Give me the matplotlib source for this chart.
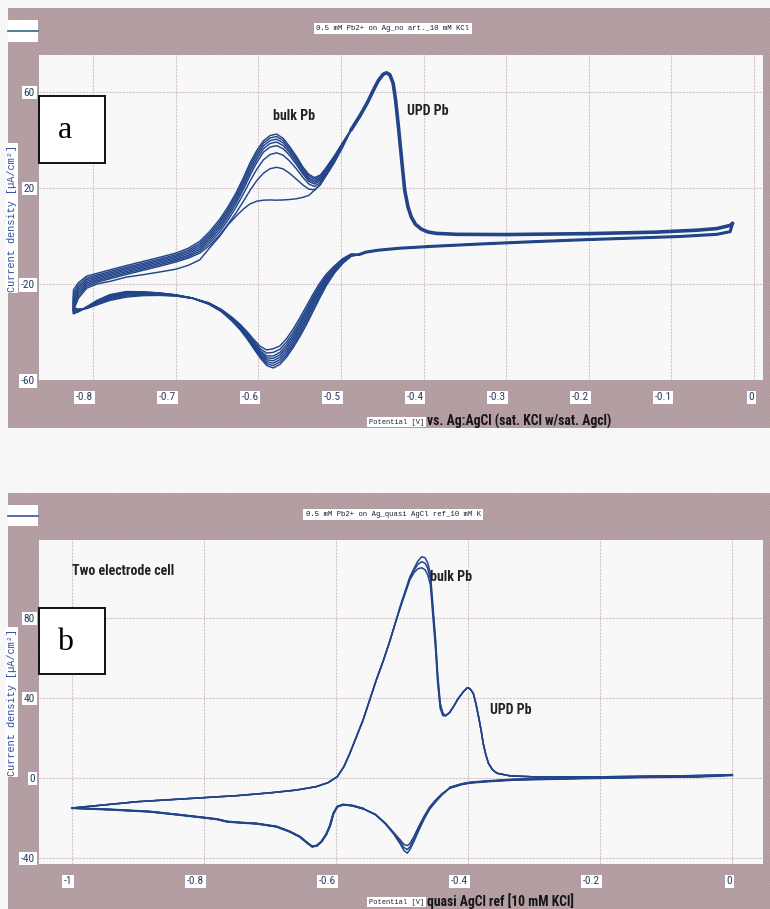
"""Cyclic voltammograms of Pb UPD / bulk deposition on Ag (two reference setups)"""

import matplotlib.pyplot as plt
from matplotlib.patches import Rectangle
import numpy as np

W, H = 770, 909

# ---------------- panel a : Ag:AgCl reference, 8 cycles ----------------
# lower (negative-going) sweep, common part from the positive limit
a_dn_tail_E = [-0.026, -0.029, -0.045, -0.09, -0.15, -0.21, -0.27, -0.33, -0.39, -0.43, -0.455, -0.470, -0.478]
a_dn_tail_I = [5.2, 1.7, 0.6, -0.3, -1.0, -1.7, -2.5, -3.4, -4.4, -5.2, -6.0, -6.8, -7.8]

# lower sweep through the bulk deposition peak, one row per cycle
a_dn_E = [-0.488, -0.498, -0.508, -0.518, -0.526, -0.534, -0.542, -0.550, -0.558, -0.566,
          -0.574, -0.582, -0.590, -0.598, -0.606, -0.614, -0.622, -0.632, -0.645, -0.660,
          -0.680, -0.700, -0.720, -0.740, -0.760, -0.780, -0.795, -0.808, -0.818, -0.824]
a_dn_I = [
    [-8.6, -11.5, -15.5, -20.8, -26.0, -31.5, -37.0, -42.0, -46.5, -50.5, -53.5, -55.0, -54.0, -50.8, -46.8,
     -42.8, -39.2, -35.5, -31.5, -28.5, -26.0, -24.6, -23.8, -23.3, -23.2, -24.5, -26.8, -29.5, -31.5, -32.5],
    [-8.4, -11.2, -15.0, -20.0, -25.0, -30.4, -35.9, -41.0, -45.6, -49.6, -52.5, -54.0, -53.2, -50.2, -46.3,
     -42.4, -38.9, -35.3, -31.4, -28.4, -25.9, -24.6, -23.8, -23.4, -23.4, -24.8, -27.0, -29.7, -31.6, -32.3],
    [-8.2, -10.9, -14.6, -19.3, -24.1, -29.3, -34.8, -39.9, -44.6, -48.6, -51.5, -53.0, -52.4, -49.6, -45.8,
     -42.0, -38.6, -35.1, -31.3, -28.3, -25.9, -24.6, -23.9, -23.6, -23.7, -25.1, -27.3, -29.8, -31.5, -32.0],
    [-8.0, -10.6, -14.2, -18.6, -23.2, -28.3, -33.7, -38.8, -43.6, -47.6, -50.5, -52.0, -51.6, -49.0, -45.3,
     -41.6, -38.3, -34.9, -31.2, -28.2, -25.9, -24.7, -24.0, -23.8, -24.0, -25.4, -27.5, -29.9, -31.4, -31.7],
    [-7.9, -10.3, -13.8, -18.0, -22.4, -27.3, -32.6, -37.7, -42.5, -46.5, -49.5, -51.0, -50.8, -48.4, -44.8,
     -41.2, -38.0, -34.7, -31.1, -28.2, -25.9, -24.8, -24.2, -24.0, -24.3, -25.7, -27.8, -30.0, -31.2, -31.3],
    [-7.8, -10.0, -13.4, -17.4, -21.6, -26.4, -31.6, -36.6, -41.4, -45.4, -48.5, -50.0, -50.0, -47.8, -44.3,
     -40.8, -37.7, -34.5, -31.0, -28.1, -26.0, -24.9, -24.4, -24.3, -24.7, -26.1, -28.1, -30.1, -31.0, -30.9],
    [-7.7, -9.8, -13.0, -16.8, -20.8, -25.5, -30.6, -35.5, -40.2, -44.2, -47.2, -48.5, -48.8, -47.0, -43.7,
     -40.3, -37.3, -34.2, -30.8, -28.0, -26.0, -25.0, -24.6, -24.6, -25.1, -26.5, -28.4, -30.2, -30.7, -30.4],
    [-7.6, -9.5, -12.5, -16.0, -19.8, -24.3, -29.3, -34.2, -38.8, -42.8, -45.8, -47.0, -47.5, -46.0, -43.0,
     -39.8, -36.9, -33.9, -30.6, -27.9, -26.0, -25.1, -24.8, -24.9, -25.5, -26.9, -28.7, -30.3, -30.5, -30.0],
]

# upper (positive-going) sweep through the bulk stripping peak, one row per cycle
a_up_E = [-0.824, -0.818, -0.808, -0.795, -0.780, -0.760, -0.740, -0.720, -0.700, -0.685, -0.671,
          -0.659, -0.647, -0.637, -0.627, -0.618, -0.610, -0.602, -0.594, -0.586, -0.578, -0.570,
          -0.562, -0.554, -0.546, -0.539, -0.532, -0.525, -0.518, -0.508, -0.498]
a_up_I = [
    [-22.5, -19.5, -16.8, -15.6, -14.2, -12.4, -10.7, -9.0, -7.2, -5.2, -2.3, 1.8, 6.8, 12.0, 17.9, 24.3,
     30.5, 35.5, 39.5, 41.7, 42.3, 40.5, 37.0, 33.0, 28.5, 25.5, 24.2, 25.3, 28.4, 33.3, 38.8],
    [-24.0, -20.5, -17.6, -16.3, -14.9, -13.1, -11.4, -9.7, -7.9, -6.0, -3.2, 0.8, 5.8, 11.0, 16.9, 23.2,
     29.3, 34.4, 38.5, 40.7, 41.3, 39.6, 36.2, 32.2, 27.8, 24.8, 23.6, 24.8, 28.0, 33.0, 38.6],
    [-25.2, -21.4, -18.3, -16.9, -15.5, -13.7, -12.0, -10.3, -8.5, -6.7, -4.0, -0.1, 4.8, 10.0, 15.8, 22.0,
     28.0, 33.2, 37.4, 39.6, 40.2, 38.6, 35.3, 31.4, 27.0, 24.0, 22.9, 24.2, 27.5, 32.6, 38.4],
    [-26.3, -22.3, -19.0, -17.5, -16.1, -14.3, -12.6, -10.9, -9.1, -7.4, -4.8, -1.0, 3.8, 8.9, 14.7, 20.8,
     26.7, 31.9, 36.2, 38.4, 39.0, 37.5, 34.4, 30.5, 26.3, 23.3, 22.2, 23.6, 27.0, 32.2, 38.2],
    [-27.5, -23.2, -19.7, -18.1, -16.7, -14.9, -13.2, -11.5, -9.7, -8.1, -5.6, -1.9, 2.8, 7.8, 13.5, 19.5,
     25.3, 30.5, 34.8, 36.9, 37.5, 36.2, 33.3, 29.6, 25.6, 22.6, 21.5, 23.0, 26.5, 31.8, 38.0],
    [-28.7, -24.1, -20.4, -18.7, -17.3, -15.5, -13.8, -12.1, -10.3, -8.7, -6.4, -2.9, 1.6, 6.5, 12.0, 17.6,
     22.9, 27.7, 31.6, 33.8, 34.5, 33.5, 31.0, 27.8, 24.2, 21.5, 20.5, 22.2, 25.9, 31.4, 37.8],
    [-29.9, -25.0, -21.1, -19.3, -17.9, -16.1, -14.4, -12.7, -10.9, -9.3, -7.2, -4.0, 0.3, 4.8, 9.6, 14.5,
     19.0, 23.0, 26.0, 27.9, 28.5, 27.8, 25.9, 23.5, 21.1, 19.4, 19.1, 21.2, 25.3, 31.0, 37.5],
    [-31.0, -26.0, -21.8, -20.0, -19.0, -17.2, -16.2, -15.1, -13.9, -12.3, -10.0, -5.0, -0.2, 4.5, 8.2, 11.2,
     13.3, 14.4, 14.8, 14.9, 14.8, 14.9, 15.1, 15.4, 16.0, 16.8, 19.0, 21.5, 25.0, 30.5, 36.8],
]

# upper sweep, common part: UPD stripping peak and double-layer region
a_up_tail_E = [-0.488, -0.477, -0.468, -0.461, -0.455, -0.449, -0.445, -0.441, -0.437, -0.434, -0.431,
               -0.427, -0.423, -0.419, -0.415, -0.410, -0.403, -0.395, -0.385, -0.36, -0.30, -0.20,
               -0.12, -0.07, -0.045, -0.029, -0.026]
a_up_tail_I = [44.0, 50.0, 55.5, 60.5, 64.5, 67.2, 67.8, 67.0, 63.5, 56.5, 46.8, 32.9, 19.0, 12.0, 7.8,
               4.8, 2.8, 1.6, 1.0, 0.6, 0.5, 0.9, 1.5, 2.3, 3.0, 4.3, 5.2]

# ---------------- panel b : quasi AgCl reference, two electrode cell ----------------
b_dn_tail_E = [0.0, -0.05, -0.13, -0.23, -0.33, -0.37, -0.397, -0.41]
b_dn_tail_I = [1.3, 0.6, 0.3, -0.3, -1.0, -1.8, -2.5, -3.3]

b_cp_E = [-0.427, -0.440, -0.450, -0.458, -0.466, -0.474, -0.482, -0.488, -0.492, -0.497, -0.503,
          -0.513, -0.525, -0.540]
b_cp_I = [
    [-5.0, -8.8, -12.5, -15.8, -20.5, -26.0, -32.0, -36.0, -37.8, -36.5, -33.0, -28.0, -23.2, -18.6],
    [-5.0, -8.5, -12.0, -15.2, -19.8, -25.0, -30.8, -34.6, -36.0, -35.0, -32.0, -27.7, -23.0, -18.5],
    [-5.0, -8.2, -11.5, -14.6, -19.0, -24.0, -29.5, -33.0, -34.0, -33.4, -31.0, -27.3, -22.8, -18.4],
]

b_dn_left_E = [-0.559, -0.575, -0.589, -0.598, -0.604, -0.609, -0.615, -0.622, -0.629, -0.636, -0.644,
               -0.655, -0.670, -0.690, -0.72, -0.745, -0.765, -0.78, -0.80, -0.84, -0.882, -0.94, -1.0]
b_dn_left_I = [-15.5, -14.0, -13.5, -14.5, -18.0, -24.0, -28.5, -32.0, -34.0, -34.5, -32.5, -29.5, -27.0,
               -24.5, -23.0, -22.5, -22.0, -20.8, -20.0, -18.5, -17.0, -16.0, -15.2]

b_up_left_E = [-1.0, -0.95, -0.90, -0.85, -0.80, -0.75, -0.70, -0.66, -0.63, -0.612, -0.598, -0.588,
               -0.579, -0.569, -0.559, -0.549, -0.539, -0.528, -0.518, -0.510]
b_up_left_I = [-15.2, -13.6, -12.0, -11.0, -10.0, -9.0, -7.6, -6.2, -4.5, -2.5, 0.5, 5.5, 12.2, 20.5,
               28.8, 38.8, 48.8, 58.8, 68.8, 77.5]

b_pk_E = [-0.503, -0.495, -0.488, -0.482, -0.476, -0.470, -0.465, -0.461, -0.457, -0.455, -0.453,
          -0.449, -0.446, -0.442, -0.438]
b_pk_I = [
    [85.5, 93.5, 100.5, 104.5, 108.3, 110.5, 110.0, 107.5, 102.2, 94.0, 85.5, 68.8, 52.2, 37.2, 32.2],
    [85.0, 93.0, 99.8, 103.6, 106.8, 108.0, 107.3, 104.8, 99.5, 91.5, 83.0, 66.5, 50.0, 35.8, 31.6],
    [84.5, 92.3, 99.0, 102.5, 104.5, 105.0, 104.0, 101.5, 96.5, 88.5, 80.0, 63.5, 47.5, 34.5, 31.0],
]

b_up_tail_E = [-0.434, -0.428, -0.422, -0.415, -0.407, -0.401, -0.397, -0.392, -0.388, -0.384, -0.380,
               -0.377, -0.373, -0.369, -0.363, -0.356, -0.336, -0.30, -0.23, -0.15, -0.08, 0.0]
b_up_tail_I = [31.0, 32.5, 35.5, 39.5, 43.0, 45.0, 44.5, 42.2, 37.0, 30.5, 23.5, 17.2, 11.5, 7.2, 4.0,
               2.2, 0.9, 0.4, 0.3, 0.6, 0.9, 1.3]

a_xticks = [-0.8, -0.7, -0.6, -0.5, -0.4, -0.3, -0.2, -0.1, 0.0]
a_xlabels = ['-0.8', '-0.7', '-0.6', '-0.5', '-0.4', '-0.3', '-0.2', '-0.1', '0']
a_yticks = [-60, -20, 20, 60]
b_xticks = [-1.0, -0.8, -0.6, -0.4, -0.2, 0.0]
b_xlabels = ['-1', '-0.8', '-0.6', '-0.4', '-0.2', '0']
b_yticks = [-40, 0, 40, 80]

CV_COLOR = '#22458a'
FRAME = '#bba7ab'
NARROW = ['Roboto Condensed', 'Liberation Sans Narrow', 'Roboto']
MONO = ['Liberation Mono', 'DejaVu Sans Mono']

plt.rcParams['hatch.linewidth'] = 0.5


def fbox(x0, y0, x1, y1):
    """pixel box (origin top-left) -> figure fraction rect"""
    return [x0 / W, 1 - y1 / H, (x1 - x0) / W, (y1 - y0) / H]


def fx(x):
    return x / W


def fy(y):
    return 1 - y / H


def frame(fig, x0, y0, x1, y1):
    l, b, w, h = fbox(x0, y0, x1, y1)
    fig.add_artist(Rectangle((l, b), w, h, transform=fig.transFigure, facecolor=FRAME,
                             edgecolor='#a99297', hatch='/' * 14, lw=0, zorder=-2))


def white_box(fig, x0, y0, x1, y1, edge='none', lw=0):
    l, b, w, h = fbox(x0, y0, x1, y1)
    fig.add_artist(Rectangle((l, b), w, h, transform=fig.transFigure, facecolor='white',
                             edgecolor=edge, lw=lw, zorder=3))


def style_axes(ax, xlim, ylim, xticks, xlabels, yticks):
    ax.set_facecolor('#f8f8f8')
    ax.set_xlim(*xlim)
    ax.set_ylim(*ylim)
    ax.set_xticks(xticks)
    ax.set_xticklabels(xlabels)
    ax.set_yticks(yticks)
    ax.set_yticklabels([str(v) for v in yticks])
    ax.grid(True, color='#d3c2ca', lw=0.8, ls=(0, (2, 1)))
    ax.set_axisbelow(True)
    for s in ax.spines.values():
        s.set_visible(False)
    ax.tick_params(length=0, labelsize=8.2, labelcolor='#2c3c66')
    ax.tick_params(axis='x', pad=9)
    ax.tick_params(axis='y', pad=3)
    for lbl in ax.get_xticklabels():
        lbl.set_ha('right')
    for lbl in ax.get_xticklabels() + ax.get_yticklabels():
        lbl.set_fontfamily(NARROW)
        lbl.set_bbox(dict(facecolor='white', edgecolor='none', pad=1.2))


fig = plt.figure(figsize=(W / 100, H / 100), dpi=100, facecolor='#f7f7f7')

frame(fig, 8, 8, W, 428)
frame(fig, 8, 493, W, H)

# ---- panel a ----
ax1 = fig.add_axes(fbox(39, 55, 763, 380))
style_axes(ax1, (-0.8657, 0.0108), (-59.9, 75.2), a_xticks, a_xlabels, a_yticks)
for up_I, dn_I in zip(a_up_I, a_dn_I):
    E = a_dn_tail_E + a_dn_E + a_up_E + a_up_tail_E
    I = a_dn_tail_I + dn_I + up_I + a_up_tail_I
    ax1.plot(E, I, color=CV_COLOR, lw=1.05)
ax1.plot(a_up_tail_E, a_up_tail_I, color=CV_COLOR, lw=2.6, solid_capstyle='round')
ax1.plot(a_dn_tail_E, a_dn_tail_I, color=CV_COLOR, lw=2.2, solid_capstyle='round')

ax1.text(-0.557, 49.8, 'bulk Pb', fontsize=10, fontweight='bold', family=NARROW,
         ha='center', va='center', color='#222222')
ax1.text(-0.395, 51.9, 'UPD Pb', fontsize=10, fontweight='bold', family=NARROW,
         ha='center', va='center', color='#222222')

# ---- panel b ----
ax2 = fig.add_axes(fbox(39, 540, 763, 864))
style_axes(ax2, (-1.05, 0.047), (-43.2, 118.9), b_xticks, b_xlabels, b_yticks)
for pk_I, cp_I in zip(b_pk_I, b_cp_I):
    E = b_dn_tail_E + b_cp_E + b_dn_left_E + b_up_left_E + b_pk_E + b_up_tail_E
    I = b_dn_tail_I + cp_I + b_dn_left_I + b_up_left_I + pk_I + b_up_tail_I
    ax2.plot(E, I, color=CV_COLOR, lw=1.1)
ax2.plot(b_dn_tail_E + b_cp_E[:1], b_dn_tail_I + b_cp_I[0][:1], color=CV_COLOR, lw=1.8)
ax2.plot(b_dn_left_E, b_dn_left_I, color=CV_COLOR, lw=1.6)

ax2.text(-1.0, 103.4, 'Two electrode cell', fontsize=10, fontweight='bold', family=NARROW,
         ha='left', va='center', color='#222222')
ax2.text(-0.458, 100.4, 'bulk Pb', fontsize=10, fontweight='bold', family=NARROW,
         ha='left', va='center', color='#222222')
ax2.text(-0.367, 33.9, 'UPD Pb', fontsize=10, fontweight='bold', family=NARROW,
         ha='left', va='center', color='#222222')

# ---- instrument style decorations ----
for (y0, y1), title in [((20, 37), '0.5 mM Pb2+ on Ag_no art._10 mM KCl'),
                        ((507, 522), '0.5 mM Pb2+ on Ag_quasi AgCl ref_10 mM K')]:
    fig.text(fx(393), fy((y0 + y1) / 2), title, fontsize=5.2, family=MONO, color='#1a1a30',
             ha='center', va='center', zorder=4,
             bbox=dict(facecolor='white', edgecolor='none', pad=1.5))

# series legend stubs
for y0, y1, col in [(20, 42, '#2b6b86'), (505, 526, '#3a55a0')]:
    white_box(fig, 8, y0, 38, y1)
    ym = fy((y0 + y1) / 2)
    fig.add_artist(plt.Line2D([fx(8), fx(38)], [ym, ym], color=col, lw=1.2, zorder=4))

# panel letters
for y0, y1, letter in [(96, 163, 'a'), (608, 674, 'b')]:
    white_box(fig, 39, y0, 105, y1, edge='#111111', lw=1.4)
    fig.text(fx(65), fy((y0 + y1) / 2 + 1), letter, fontsize=23, family=['Liberation Serif', 'DejaVu Serif'],
             ha='center', va='center', zorder=4)

# axis labels
for yc in [fy(218), fy(702)]:
    fig.text(fx(12), yc, 'Current density [µA/cm²]', rotation=90, fontsize=7.4, family=MONO,
             color='#2c4c9c', ha='center', va='center',
             bbox=dict(facecolor='white', edgecolor='none', pad=0.8))

fig.text(fx(424), fy(422), 'Potential [V]', fontsize=5.0, family=MONO, color='#1a1a40',
         ha='right', va='center', bbox=dict(facecolor='white', edgecolor='none', pad=1.2))
fig.text(fx(427), fy(421), 'vs. Ag:AgCl (sat. KCl w/sat. Agcl)', fontsize=9.8, fontweight='bold',
         family=NARROW, color='#151515', ha='left', va='center')

fig.text(fx(424), fy(902), 'Potential [V]', fontsize=5.0, family=MONO, color='#1a1a40',
         ha='right', va='center', bbox=dict(facecolor='white', edgecolor='none', pad=1.2))
fig.text(fx(427), fy(901), 'quasi AgCl ref [10 mM KCl]', fontsize=9.8, fontweight='bold',
         family=NARROW, color='#151515', ha='left', va='center')

fig.savefig('out.png', dpi=100, facecolor=fig.get_facecolor())
